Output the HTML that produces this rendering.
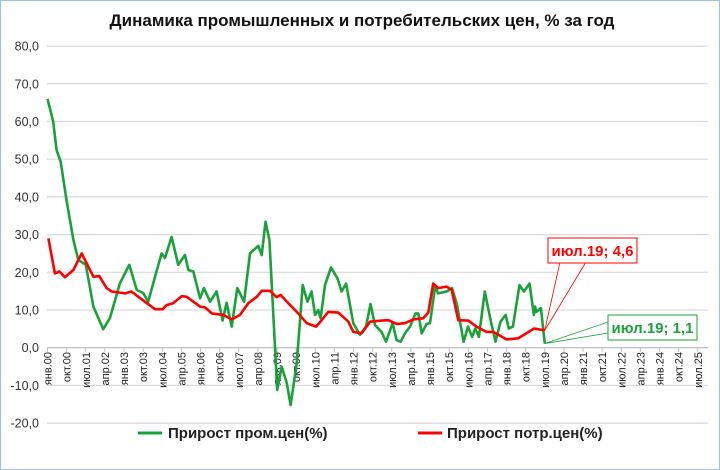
<!DOCTYPE html>
<html><head><meta charset="utf-8"><style>
body{margin:0;background:#fff;}
svg{display:block;font-family:"Liberation Sans",sans-serif;}
</style></head><body>
<svg id="chart" width="720" height="470" viewBox="0 0 720 470" xmlns="http://www.w3.org/2000/svg">
<rect x="0.5" y="0.5" width="719" height="469" fill="#fff" stroke="#9dc3e6" stroke-width="1"/>
<text x="362" y="26" text-anchor="middle" font-size="17" font-weight="bold" fill="#111">Динамика промышленных и потребительских цен, % за год</text>
<g id="grid"></g><g id="yax"></g><g id="xax"></g><g id="series"></g>
<g>
<line x1="138" y1="433" x2="162" y2="433" stroke="#1aa23a" stroke-width="3"/>
<text x="168" y="438" font-size="15" font-weight="bold" fill="#222">Прирост пром.цен(%)</text>
<line x1="418" y1="433" x2="442" y2="433" stroke="#f00" stroke-width="3"/>
<text x="447" y="438" font-size="15" font-weight="bold" fill="#222">Прирост потр.цен(%)</text>
</g>
<g id="callouts"></g>
</svg>
<script>
const yTicks=[-20,-10,0,10,20,30,40,50,60,70,80];
const xTickLabels=["янв.00","окт.00","июл.01","апр.02","янв.03","окт.03","июл.04","апр.05","янв.06","окт.06","июл.07","апр.08","янв.09","окт.09","июл.10","апр.11","янв.12","окт.12","июл.13","апр.14","янв.15","окт.15","июл.16","апр.17","янв.18","окт.18","июл.19","апр.20","янв.21","окт.21","июл.22","апр.23","янв.24","окт.24","июл.25"];
const ppiMonths=[0,2.7,4.3,6.2,9,12.2,14.5,18,21.6,26.2,29.4,34,38.5,42,45,47.4,50.6,53.7,55.3,58.4,61.5,64.7,66.3,68.6,71.8,73.6,76.5,79.6,82.4,84.3,86.7,89.3,92.5,95.3,99.2,100.8,102.6,104.4,105.5,108.1,110.2,112.6,114.4,117.3,120.1,122.3,124.3,125.9,127.4,128.5,130.6,133.4,136.4,138.4,140.5,143.9,147,149.9,152,154.1,157.2,159.3,162.4,164.3,166.2,168.2,170.6,173.2,174.5,176.1,178.4,180,182.4,183.8,187.8,190.4,192.7,195.8,197.9,199.8,201.3,203,205.8,208.5,210.8,213.2,215.6,217.1,219,222.1,224.2,226.8,228.9,229.4,230,232.2,234];
const ppiValues=[66,60,52.4,49.3,39,28.6,23.3,22,10.9,4.9,7.9,17,22,15.3,14.5,12.2,18.8,25,23.8,29.4,22,24.6,20.6,20.2,13.1,15.8,12.2,14.9,7.2,11.9,5.6,15.8,12.2,25,27,24.6,33.4,28.6,17,-11.2,-5,-9.4,-15.2,-4,16.6,12.2,14.9,8.7,10,7.8,16.6,21.3,18.4,14.9,17,6.5,3.4,5.6,11.6,6,4.2,1.6,6.5,2,1.6,3.8,5.6,9.1,9.1,3.8,6.3,6.5,16.2,14.4,14.9,15.8,11.3,1.6,5.6,2.9,5.1,2.9,14.9,7.3,1.6,6.9,8.7,5.1,5.6,16.6,14.9,17,8.7,10.9,9.5,10.5,1.1];
const cpiMonths=[0.4,3.5,5.6,8.2,12.2,16.1,21.6,24.4,27.8,30.2,36.5,39.5,43.5,50.6,54.2,56,59.1,63.2,65.5,71.8,74.1,77.3,82.7,86.7,90.6,94.5,98.5,100.8,104.7,107.8,109.7,113.3,117.3,122,126.4,129,132.1,136.9,141.6,143.9,147.8,151.8,157.2,160.4,164.3,168.2,172.1,176.8,179.2,181.5,183.8,187.8,190.2,193.3,198,201.9,206.6,209.8,216,221.5,224.7,229,234];
const cpiValues=[29,19.7,20.2,18.7,20.6,25,18.8,19,15.8,14.9,14.4,14.9,13.2,10.2,10.2,11.3,11.8,13.7,13.5,10.9,10.7,9.1,8.7,7.5,8.7,11.8,13.5,15.1,15.1,13.4,14,11.8,9.5,6.5,5.6,7.3,9.5,9.3,6.9,4.2,3.8,6.9,7.2,7.3,6.3,6.5,7.5,7.8,9.3,17,15.8,16.2,15.3,7.3,7.2,5.6,4.2,4.2,2.2,2.5,3.6,5.1,4.6];
const NS="http://www.w3.org/2000/svg";
const X=m=>47.5+2.125*m, Y=v=>347.7-3.77*v;
function mk(tag,attrs,parent){const e=document.createElementNS(NS,tag);for(const k in attrs)e.setAttribute(k,attrs[k]);parent.appendChild(e);return e;}
const grid=document.getElementById('grid'),yax=document.getElementById('yax'),xax=document.getElementById('xax'),ser=document.getElementById('series'),cal=document.getElementById('callouts');
yTicks.forEach(v=>{
 const l=mk('line',{x1:47,x2:708,y1:Y(v),y2:Y(v),stroke:'#d9d9d9','stroke-width':1.2},grid);
 
 
 const t=mk('text',{x:39,y:Y(v)+4.5,'text-anchor':'end','font-size':12.5,fill:'#333'},yax);
 
 
 t.textContent=v.toFixed(1).replace('.',',');
});
const ax=mk('line',{x1:47,x2:708,y1:Y(0),y2:Y(0),stroke:'#bfbfbf','stroke-width':1.2},xax);


xTickLabels.forEach((s,i)=>{
 const x=X(i*9);
 const tk=mk('line',{x1:x,x2:x,y1:Y(0),y2:Y(0)+4,stroke:'#bfbfbf'},xax);
 
 
 const t=mk('text',{x:0,y:0,transform:`translate(${x+4},352) rotate(-90)`,'text-anchor':'end','font-size':11,fill:'#222'},xax);
 
 
 t.textContent=s;
});
function line(ms,vs,col,name){
 const p=mk('polyline',{points:ms.map((m,i)=>X(m).toFixed(1)+','+Y(vs[i]).toFixed(1)).join(' '),fill:'none',stroke:col,'stroke-width':2.6,'stroke-linejoin':'round'},ser);
 
 
}
line(ppiMonths,ppiValues,'#1aa23a','ppi-line');
line(cpiMonths,cpiValues,'#f00','cpi-line');
function callout(ms,vs,col,bx,by,name){
 const n=ms.length-1,px=X(ms[n]),py=Y(vs[n]);
 const label=xTickLabels[26]+'; '+vs[n].toFixed(1).replace('.',',');
 const g=mk('g',{},cal);
 
 
 if(name==='cpi-callout'){mk('polygon',{points:`${bx+12},${by+24} ${bx+38},${by+24} ${px},${py}`,fill:'#fff',stroke:col,'stroke-width':0.8},g);}
 else{mk('polygon',{points:`${bx},${by+7} ${bx},${by+18} ${px},${py}`,fill:'#fff',stroke:col,'stroke-width':0.8},g);}
 mk('rect',{x:bx,y:by,width:89,height:25,fill:'#fff',stroke:col,'stroke-width':1},g);
 const t=mk('text',{x:bx+44.5,y:by+18,'text-anchor':'middle','font-size':15,'font-weight':'bold',fill:col},g);
 t.textContent=label;
}
callout(cpiMonths,cpiValues,'#f00',548,238,'cpi-callout');
callout(ppiMonths,ppiValues,'#1aa23a',608,315,'ppi-callout');
</script>
</body></html>
